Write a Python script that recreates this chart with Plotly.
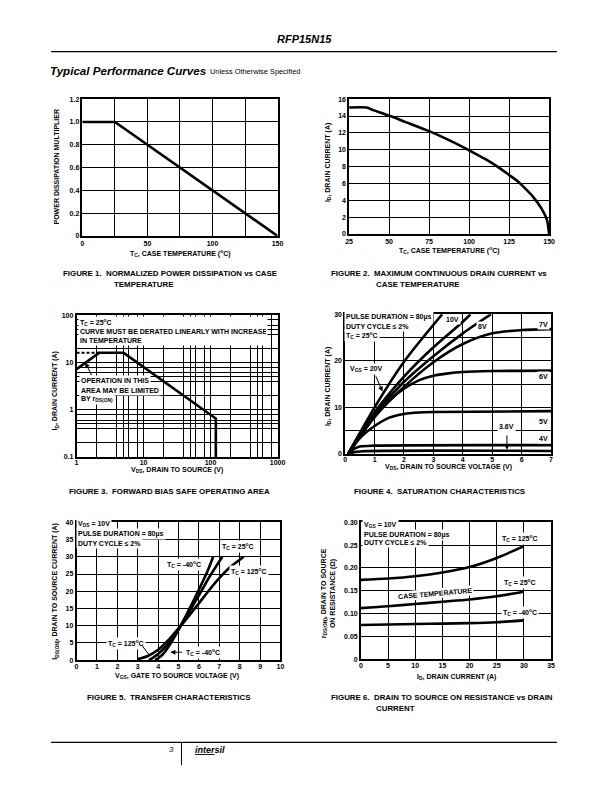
import numpy as np
import plotly.graph_objects as go

W, H = 612, 792
def px(x): return x / W
def py(y): return 1 - y / H

TFONT = "Liberation Sans, Arial, sans-serif"

# ---------------- DATA ----------------
# Figure 1: normalized power dissipation
f1_temp = [0, 25, 150]
f1_mult = [1.0, 1.0, 0.0]
f1_xticks = [0, 25, 50, 75, 100, 125, 150]
f1_xlabels = ["0", "", "50", "", "100", "", "150"]
f1_yticks = [0, 0.2, 0.4, 0.6, 0.8, 1.0, 1.2]
f1_ylabels = ["0", "0.2", "0.4", "0.6", "0.8", "1.0", "1.2"]

# Figure 2: max continuous drain current
f2_temp = [25, 36, 40, 50, 60, 75, 90, 100, 110, 120, 125, 130, 135, 140, 145, 148, 149, 150]
f2_id = [15, 15, 14.7, 14.05, 13.3, 12.2, 10.9, 9.93, 8.9, 7.7, 7.0, 6.3, 5.4, 4.4, 3.1, 2.0, 1.4, 0]
f2_xticks = [25, 50, 75, 100, 125, 150]
f2_yticks = [0, 2, 4, 6, 8, 10, 12, 14, 16]

# Figure 3: forward bias safe operating area
f3_vds = [1, 2.17, 5.05, 120, 120]
f3_id = [7.2, 16, 16, 0.65, 0.1]
f3_dash_vds = [1, 2.17]
f3_dash_id = [16, 16]
f3_xticks = [1, 2, 4, 5, 6, 8, 10, 20, 40, 50, 60, 80, 100, 200, 400, 500, 600, 800, 1000]
f3_yticks = [0.1, 0.2, 0.4, 0.5, 0.6, 0.8, 1, 2, 4, 5, 6, 8, 10, 20, 40, 50, 60, 80, 100]
f3_xlabel_map = {1: "1", 10: "10", 100: "100", 1000: "1000"}
f3_ylabel_map = {0.1: "0.1", 1: "1", 10: "10", 100: "100"}

# Figure 4: saturation characteristics (VGS curves)
f4_v20_vds = [0.1, 1, 2, 3.3]
f4_v20_id = [0, 10, 19.8, 30]
f4_v10_vds = [0.1, 1, 2, 3, 4, 4.26]
f4_v10_id = [0, 8.9, 16.6, 22.9, 28.4, 30]
f4_v8_vds = [0.1, 1, 2, 3, 4, 4.96]
f4_v8_id = [0, 8.4, 15.5, 21.0, 25.9, 30]
f4_v7_vds = [0.1, 1, 2, 3, 4, 5, 6, 7]
f4_v7_id = [0, 7.9, 14.4, 19.7, 23.6, 25.9, 26.6, 26.8]
f4_v6_vds = [0.1, 0.5, 1, 1.5, 2, 2.5, 3, 3.5, 4, 5, 7]
f4_v6_id = [0, 4.3, 8.3, 11.5, 14.0, 15.8, 16.8, 17.3, 17.6, 17.8, 17.9]
f4_v5_vds = [0.1, 0.5, 1, 1.5, 2, 2.5, 3, 7]
f4_v5_id = [0, 3.4, 6.0, 7.8, 8.6, 8.9, 9.0, 9.2]
f4_v4_vds = [0.1, 0.3, 0.5, 1, 7]
f4_v4_id = [0, 1.1, 1.6, 1.8, 1.9]
f4_v36_vds = [0.1, 0.3, 0.6, 7]
f4_v36_id = [0, 0.4, 0.6, 0.65]
f4_xticks = [0, 1, 2, 3, 4, 5, 6, 7]
f4_yticks = [0, 5, 10, 15, 20, 25, 30]
f4_ylabels = ["0", "", "10", "", "20", "", "30"]

# Figure 5: transfer characteristics
f5_m40_vgs = [3.85, 4.2, 4.5, 5.0, 5.5, 6.0, 6.4, 6.7]
f5_m40_id = [0, 1.5, 3.8, 8.8, 14.5, 20.5, 25.5, 30]
f5_25_vgs = [3.55, 4.0, 4.5, 5.0, 5.5, 6.0, 6.5, 7.15]
f5_25_id = [0, 1.8, 4.8, 9.0, 13.8, 18.8, 24.0, 30]
f5_125_vgs = [3.0, 3.5, 4.0, 4.5, 5.0, 5.5, 6.0, 6.5, 7.0, 7.5, 8.2]
f5_125_id = [0.3, 1.2, 3.0, 5.8, 9.2, 12.8, 16.5, 20.3, 23.8, 26.8, 30]
f5_xticks = [0, 1, 2, 3, 4, 5, 6, 7, 8, 9, 10]
f5_yticks = [0, 5, 10, 15, 20, 25, 30, 35, 40]

# Figure 6: on resistance vs drain current
f6_id = [0, 5, 10, 15, 20, 25, 30]
f6_r125 = [0.174, 0.177, 0.182, 0.190, 0.202, 0.222, 0.248]
f6_r25 = [0.112, 0.116, 0.121, 0.126, 0.131, 0.138, 0.148]
f6_rm40 = [0.075, 0.076, 0.077, 0.078, 0.079, 0.081, 0.085]
f6_xticks = [0, 5, 10, 15, 20, 25, 30, 35]
f6_yticks = [0, 0.05, 0.10, 0.15, 0.20, 0.25, 0.30]
f6_ylabels = ["0", "0.05", "0.10", "0.15", "0.20", "0.25", "0.30"]

# ---------------- FIGURE ----------------
fig = go.Figure()
LW = 2.6

def line(x, y, ax, shape="linear", dash="solid", width=LW):
    fig.add_trace(go.Scatter(x=x, y=y, mode="lines", xaxis="x" + ax, yaxis="y" + ax,
                             line=dict(color="black", width=width, shape=shape, dash=dash,
                                       smoothing=0.8 if shape == "spline" else None),
                             showlegend=False, hoverinfo="skip"))

line(f1_temp, f1_mult, "")
line(f2_temp, f2_id, "2", shape="spline")
line(f3_vds, f3_id, "3")
line(f3_dash_vds, f3_dash_id, "3", dash="3px,2px", width=2)
for xs, ys in [(f4_v20_vds, f4_v20_id), (f4_v10_vds, f4_v10_id), (f4_v8_vds, f4_v8_id),
               (f4_v7_vds, f4_v7_id), (f4_v6_vds, f4_v6_id), (f4_v5_vds, f4_v5_id),
               (f4_v4_vds, f4_v4_id), (f4_v36_vds, f4_v36_id)]:
    line(xs, ys, "4", shape="spline")
for xs, ys in [(f5_m40_vgs, f5_m40_id), (f5_25_vgs, f5_25_id), (f5_125_vgs, f5_125_id)]:
    line(xs, ys, "5", shape="spline")
for ys in [f6_r125, f6_r25, f6_rm40]:
    line(f6_id, ys, "6", shape="spline")


def axis(dom, rng, tv, tt, typ="linear", anchor=None, standoff=0):
    d = dict(domain=dom, range=rng, tickmode="array", tickvals=tv, ticktext=tt, type=typ,
             showgrid=True, gridcolor="black", gridwidth=1, showline=True, linecolor="black",
             linewidth=1.5, mirror=True, ticks="", zeroline=False, fixedrange=True,
             ticklabelstandoff=standoff,
             tickfont=dict(family=TFONT, size=7, color="black", weight="bold"))
    if anchor:
        d["anchor"] = anchor
    return d

boxes = {
    "": (80, 279, 96, 234),
    "2": (352, 556, 96, 232),
    "3": (74, 279, 314, 457),
    "4": (348, 558, 313, 454),
    "5": (74, 282, 523, 662),
    "6": (364, 558, 523, 661),
}
def dx(k): b = boxes[k]; return [px(b[0]), px(b[1])]
def dy(k): b = boxes[k]; return [py(b[3]), py(b[2])]

layout_axes = {
    "xaxis": axis(dx(""), [0, 150], f1_xticks, f1_xlabels, anchor="y", standoff=0),
    "yaxis": axis(dy(""), [0, 1.2], f1_yticks, f1_ylabels, anchor="x"),
    "xaxis2": axis(dx("2"), [25, 150], f2_xticks, [str(v) for v in f2_xticks], anchor="y2", standoff=0),
    "yaxis2": axis(dy("2"), [0, 16], f2_yticks, [str(v) for v in f2_yticks], anchor="x2"),
    "xaxis3": axis(dx("3"), [0, 3], f3_xticks, [f3_xlabel_map.get(v, "") for v in f3_xticks], "log", anchor="y3", standoff=-2),
    "yaxis3": axis(dy("3"), [-1, 2], f3_yticks, [f3_ylabel_map.get(v, "") for v in f3_yticks], "log", anchor="x3"),
    "xaxis4": axis(dx("4"), [0, 7], f4_xticks, [str(v) for v in f4_xticks], anchor="y4", standoff=-2),
    "yaxis4": axis(dy("4"), [0, 30], f4_yticks, f4_ylabels, anchor="x4"),
    "xaxis5": axis(dx("5"), [0, 10], f5_xticks, [str(v) for v in f5_xticks], anchor="y5", standoff=-1),
    "yaxis5": axis(dy("5"), [0, 40], f5_yticks, [str(v) for v in f5_yticks], anchor="x5"),
    "xaxis6": axis(dx("6"), [0, 35], f6_xticks, [str(v) for v in f6_xticks], anchor="y6", standoff=-1),
    "yaxis6": axis(dy("6"), [0, 0.30], f6_yticks, f6_ylabels, anchor="x6"),
}

anns = []
def ann(text, x, y, size=7, xanchor="left", yanchor="middle", bold=True, bg=None,
        angle=0, italic=False, **extra):
    if xanchor == "left":
        x -= 3
    a = dict(text=text, x=px(x), y=py(y), xref="paper", yref="paper", showarrow=False,
             xanchor=xanchor, yanchor=yanchor, textangle=angle,
             font=dict(family=TFONT, size=size, color="black",
                       weight="bold" if bold else "normal",
                       style="italic" if italic else "normal"),
             borderpad=1)
    if bg:
        a["bgcolor"] = bg
    a.update(extra)
    anns.append(a)

def arrow(ax_id, x, y, tx, ty, head=2):
    anns.append(dict(x=x, y=y, ax=tx, ay=ty, xref="x" + ax_id, yref="y" + ax_id,
                     axref="x" + ax_id, ayref="y" + ax_id, text="", showarrow=True,
                     arrowhead=head, arrowsize=1, arrowwidth=1, arrowcolor="black"))

SP = "\u00a0"
# Header
ann("RFP15N15", 306, 35, size=11, xanchor="center", italic=True)
ann("Typical Performance Curves", 48, 67, size=11.6, italic=True)
ann("Unless Otherwise Specified", 211, 68.5, size=7.4, bold=False)

# Axis titles
AT = 7
ann("T<sub>C</sub>, CASE TEMPERATURE (<sup>o</sup>C)", 180, 252, AT, "center")
ann("POWER DISSIPATION MULTIPLIER", 54, 164, AT, "center", angle=-90)
ann("T<sub>C</sub>, CASE TEMPERATURE (<sup>o</sup>C)", 454, 249, AT, "center")
ann("I<sub>D</sub>, DRAIN CURRENT (A)", 330, 160, AT, "center", angle=-90)
ann("V<sub>DS</sub>, DRAIN TO SOURCE (V)", 176, 470, AT, "center")
ann("I<sub>D</sub>, DRAIN CURRENT (A)", 52, 390, AT, "center", angle=-90)
ann("V<sub>DS</sub>, DRAIN TO SOURCE VOLTAGE (V)", 453, 467, AT, "center")
ann("I<sub>D</sub>, DRAIN CURRENT (A)", 330, 386, AT, "center", angle=-90)
ann("V<sub>GS</sub>, GATE TO SOURCE VOLTAGE (V)", 176, 678, AT, "center")
ann("I<sub>DS(ON)</sub>, DRAIN TO SOURCE CURRENT (A)", 52, 592, AT, "center", angle=-90)
ann("I<sub>D</sub>, DRAIN CURRENT (A)", 462, 679, AT, "center")
ann("r<sub>DS(ON)</sub>, DRAIN TO SOURCE<br>ON RESISTANCE (\u03a9)", 331, 595, AT, "center", angle=-90)

# Captions
CS = 7.9
ann("FIGURE 1." + SP * 2 + "NORMALIZED POWER DISSIPATION vs CASE", 61, 272, CS)
ann("TEMPERATURE", 113, 283, CS)
ann("FIGURE 2." + SP * 2 + "MAXIMUM CONTINUOUS DRAIN CURRENT vs", 335, 272, CS)
ann("CASE TEMPERATURE", 380, 283, CS)
ann("FIGURE 3." + SP * 2 + "FORWARD BIAS SAFE OPERATING AREA", 67, 492, CS)
ann("FIGURE 4." + SP * 2 + "SATURATION CHARACTERISTICS", 358, 492, CS)
ann("FIGURE 5." + SP * 2 + "TRANSFER CHARACTERISTICS", 86, 700, CS)
ann("FIGURE 6." + SP * 2 + "DRAIN TO SOURCE ON RESISTANCE vs DRAIN", 335, 700, CS)
ann("CURRENT", 380, 711, CS)

# In-plot labels
IL = 7
WB = "white"
# Fig 3
ann("T<sub>C</sub> = 25<sup>o</sup>C<br>CURVE MUST BE DERATED LINEARLY WITH INCREASE<br>IN TEMPERATURE",
    78, 315, IL, yanchor="top", bg=WB, align="left", width=186, height=26, valign="top")
ann("OPERATION IN THIS", 80, 380, IL, bg=WB)
ann("AREA MAY BE LIMITED", 80, 389.5, IL, bg=WB)
ann("BY r<sub>DS(ON)</sub>", 80, 399, IL, bg=WB)
arrow("3", np.log10(1.35), np.log10(10.0), np.log10(1.72), np.log10(5.0))
# Fig 4
ann("PULSE DURATION = 80\u00b5s", 350, 316, IL, bg=WB)
ann("DUTY CYCLE \u2264 2%", 350, 325, IL, bg=WB)
ann("T<sub>C</sub> = 25<sup>o</sup>C", 350, 334, IL, bg=WB)
ann("10V", 457, 318, IL, "center", bg=WB)
ann("8V", 488, 325, IL, "center", bg=WB)
ann("7V", 550, 323, IL, "center", bg=WB)
ann("6V", 550, 376, IL, "center", bg=WB)
ann("5V", 550, 421, IL, "center", bg=WB)
ann("4V", 550, 438, IL, "center", bg=WB)
ann("3.6V", 513, 426, IL, "center", bg=WB)
ann("V<sub>GS</sub> = 20V", 370, 368, IL, "center", bg=WB)
arrow("4", 5.5, 0.9, 5.5, 4.3)
arrow("4", 1.27, 13.4, 1.02, 17.0)
# Fig 5
ann("V<sub>DS</sub> = 10V", 76, 525, IL, bg=WB)
ann("PULSE DURATION = 80\u00b5s", 76, 535, IL, bg=WB)
ann("DUTY CYCLE \u2264 2%", 76, 544, IL, bg=WB)
ann("T<sub>C</sub> = 25<sup>o</sup>C", 239, 547, IL, "center", bg=WB)
ann("T<sub>C</sub> = -40<sup>o</sup>C", 184, 566, IL, "center", bg=WB)
ann("T<sub>C</sub> = 125<sup>o</sup>C", 250, 573, IL, "center", bg=WB)
ann("T<sub>C</sub> = 125<sup>o</sup>C", 124, 645, IL, "center", bg=WB)
ann("T<sub>C</sub> = -40<sup>o</sup>C", 203, 654, IL, "center", bg=WB)
arrow("5", 3.55, 1.6, 3.15, 4.7, head=0)
arrow("5", 4.6, 2.3, 5.25, 2.3)
# Fig 6
ann("V<sub>GS</sub> = 10V", 368, 526, IL, bg=WB)
ann("PULSE DURATION = 80\u00b5s", 368, 535.5, IL, bg=WB)
ann("DUTY CYCLE \u2264 2%", 368, 543, IL, bg=WB)
ann("T<sub>C</sub> = 125<sup>o</sup>C", 526, 539, IL, "center", bg=WB)
ann("T<sub>C</sub> = 25<sup>o</sup>C", 526, 584, IL, "center", bg=WB)
ann("T<sub>C</sub> = -40<sup>o</sup>C", 526, 614, IL, "center", bg=WB)
ann("CASE TEMPERATURE", 440, 595, IL, "center", bg=WB, angle=-5)

# Footer
ann("3", 171, 752, 8, "center", bold=False, italic=True)
ann("<u>inter</u>sil", 196, 753, 9, italic=True)

shapes = [
    dict(type="line", xref="paper", yref="paper", x0=px(48), x1=px(564), y0=py(48), y1=py(48),
         line=dict(color="black", width=1.2)),
    dict(type="line", xref="paper", yref="paper", x0=px(48), x1=px(564), y0=py(745), y1=py(745),
         line=dict(color="black", width=1.2)),
    dict(type="line", xref="paper", yref="paper", x0=px(181), x1=px(181), y0=py(745), y1=py(768),
         line=dict(color="black", width=1)),
]

fig.update_layout(width=W, height=H, margin=dict(l=0, r=0, t=0, b=0),
                  paper_bgcolor="white", plot_bgcolor="white",
                  annotations=anns, shapes=shapes, showlegend=False, **layout_axes)

fig.write_html("out.html", config={"displayModeBar": False},
               post_script="document.body.style.margin='0';document.body.style.padding='0';")
